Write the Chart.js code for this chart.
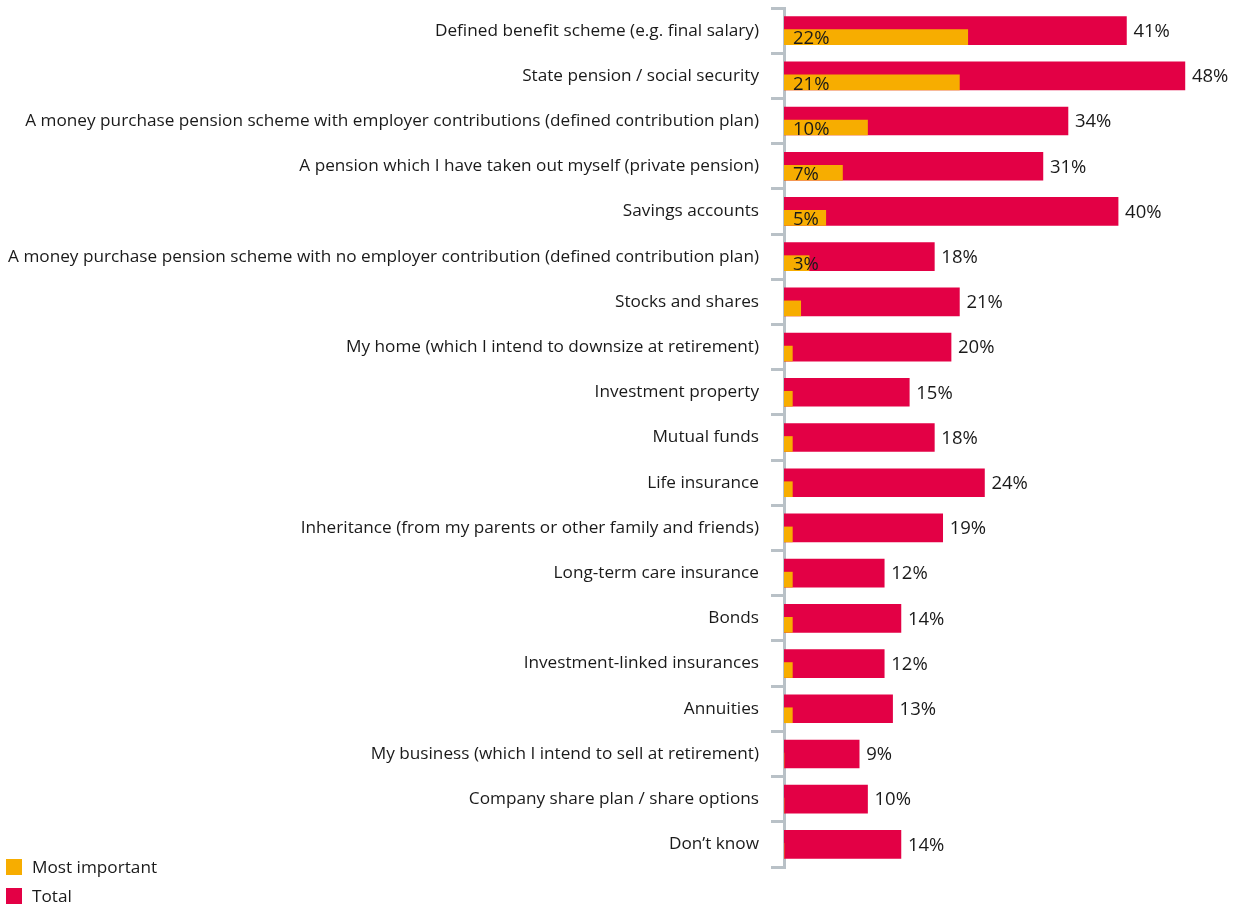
<!DOCTYPE html>
<html>
<head>
<meta charset="utf-8">
<script src="https://cdn.jsdelivr.net/npm/chart.js@4"></script>
<style>
  html, body { margin: 0; padding: 0; background: #fff; }
  #wrap { position: relative; width: 1235px; height: 909px; }
  #legend { position: absolute; left: 6px; top: 852px; font-family: "Open Sans", sans-serif; font-weight: 500; font-size: 17.2px; color: #1a1a1a; }
  #legend div { display: flex; align-items: center; height: 29px; }
  #legend span.box { display: inline-block; width: 16px; height: 16px; margin-right: 10px; }
</style>
</head>
<body>
<div id="wrap">
  <canvas id="chart" width="1235" height="909"></canvas>
  <div id="legend">
    <div><span class="box" style="background:#F7AD00"></span>Most important</div>
    <div><span class="box" style="background:#E30045"></span>Total</div>
  </div>
</div>
<script>
const categories = [
  "Defined benefit scheme (e.g. final salary)",
  "State pension / social security",
  "A money purchase pension scheme with employer contributions (defined contribution plan)",
  "A pension which I have taken out myself (private pension)",
  "Savings accounts",
  "A money purchase pension scheme with no employer contribution (defined contribution plan)",
  "Stocks and shares",
  "My home (which I intend to downsize at retirement)",
  "Investment property",
  "Mutual funds",
  "Life insurance",
  "Inheritance (from my parents or other family and friends)",
  "Long-term care insurance",
  "Bonds",
  "Investment-linked insurances",
  "Annuities",
  "My business (which I intend to sell at retirement)",
  "Company share plan / share options",
  "Don\u2019t know"
];
const mostImportant = [22, 21, 10, 7, 5, 3, 2, 1, 1, 1, 1, 1, 1, 1, 1, 1, 0, 0, 0];
const total = [41, 48, 34, 31, 40, 18, 21, 20, 15, 18, 24, 19, 12, 14, 12, 13, 9, 10, 14];

const ORANGE = "#F7AD00";
const RED = "#E30045";
const TEXT = "#1a1a1a";
const FONT = "'Open Sans', sans-serif";
const FONT_SIZE = 17.2;
const RED_H = 28, ORANGE_H = 15;

// push the "most important" bars to the lower part of the total bar
const shiftBars = {
  id: "shiftBars",
  afterDatasetsUpdate(chart) {
    const meta = chart.getDatasetMeta(0);
    meta.data.forEach(el => { el.y += (RED_H - ORANGE_H) / 2; });
  }
};

const valueLabels = {
  id: "valueLabels",
  afterDatasetsDraw(chart) {
    const ctx = chart.ctx;
    ctx.save();
    ctx.font = "500 18.5px " + FONT;
    ctx.fillStyle = TEXT;
    ctx.textBaseline = "middle";
    ctx.textAlign = "left";
    chart.getDatasetMeta(1).data.forEach((el, i) => {
      ctx.fillText(total[i] + "%", el.x + 7, el.y + 1);
    });
    chart.getDatasetMeta(0).data.forEach((el, i) => {
      if (mostImportant[i] >= 3) ctx.fillText(mostImportant[i] + "%", el.base + 9, el.y + 2);
    });
    ctx.restore();
  }
};

new Chart(document.getElementById("chart"), {
  type: "bar",
  data: {
    labels: categories,
    datasets: [
      { label: "Most important", data: mostImportant, backgroundColor: ORANGE, barThickness: ORANGE_H, grouped: false },
      { label: "Total", data: total, backgroundColor: RED, barThickness: RED_H, grouped: false }
    ]
  },
  options: {
    indexAxis: "y",
    responsive: false,
    animation: false,
    layout: { padding: { top: 8, bottom: 42, right: 0, left: 0 } },
    plugins: { legend: { display: false }, tooltip: { enabled: false } },
    scales: {
      x: { display: false, min: 0, max: 54 },
      y: {
        afterFit(scale) {
          scale.width = 784;
          scale.paddingTop = 0;
          scale.paddingBottom = 0;
        },
        border: { color: "#B9C1C7", width: 3 },
        grid: { offset: true, drawOnChartArea: false, drawTicks: true, tickLength: 13, color: "#B9C1C7", lineWidth: 3 },
        ticks: { color: TEXT, font: { family: FONT, size: FONT_SIZE, weight: 500 }, padding: 12, autoSkip: false }
      }
    }
  },
  plugins: [shiftBars, valueLabels]
});
</script>
</body>
</html>
